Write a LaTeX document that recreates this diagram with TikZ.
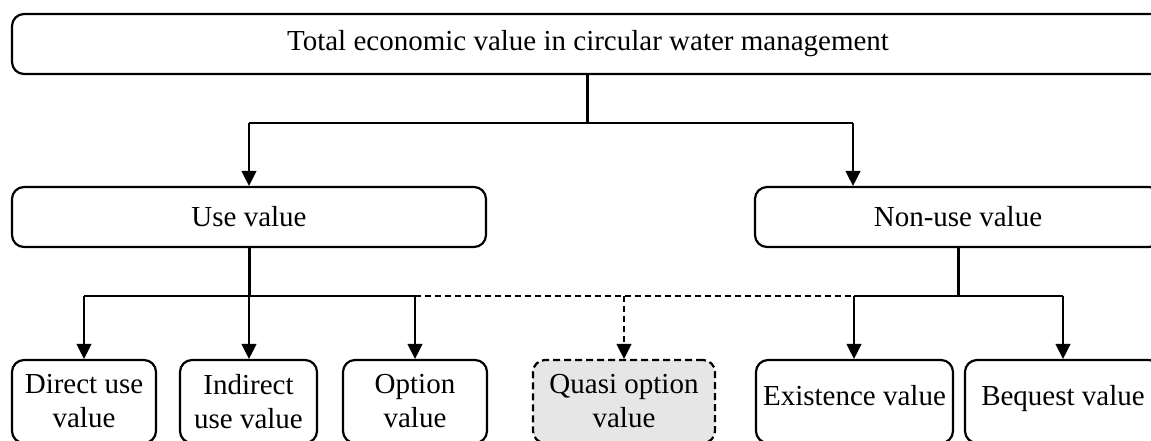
\documentclass[tikz,border=0pt]{standalone}
\usepackage{fontspec}
\setmainfont{Liberation Serif}
\usetikzlibrary{arrows.meta}
\definecolor{quasigray}{HTML}{E6E6E6}
\begin{document}
\begin{tikzpicture}[x=1pt,y=-1pt,
  box/.style={draw, line width=2.2pt, rounded corners=12pt, inner sep=0pt, align=center, font=\fontsize{29}{34}\selectfont},
  conn/.style={line width=1.3pt},
  stem/.style={line width=3pt},
  arr/.style={-{Triangle[length=15pt,width=15pt]}, line width=1.3pt},
  dsh/.style={dash pattern=on 6pt off 4pt},
]
\useasboundingbox (0,0) rectangle (1151,440);
\clip (0,0) rectangle (1151,440);

\node[box, minimum width=1152pt, minimum height=60pt] (top) at (588,44) {Total economic value in circular water management};
\node[box, minimum width=474pt, minimum height=60pt] (use) at (249,217) {Use value};
\node[box, minimum width=406pt, minimum height=60pt] (non) at (958,217) {Non-use value};

\node[box, minimum width=144pt, minimum height=83pt] (dir) at (84,401.5) {Direct use\\value};
\node[box, minimum width=137pt, minimum height=83pt] (ind) at (248.5,401.5) {Indirect\\use value};
\node[box, minimum width=144pt, minimum height=83pt] (opt) at (415,401.5) {Option\\value};
\node[box, minimum width=182pt, minimum height=83pt, fill=quasigray, dash pattern=on 7pt off 4pt] (qua) at (624,401.5) {Quasi option\\value};
\node[box, minimum width=197pt, minimum height=83pt, text depth=12pt] (exi) at (854.5,401.5) {Existence value};
\node[box, minimum width=196pt, minimum height=83pt, text depth=12pt] (beq) at (1063,401.5) {Bequest value};

% upper level
\coordinate (j1) at (587,123);
\coordinate (l1) at (249,123);
\coordinate (r1) at (853,123);
\draw[stem] (top.south -| j1) -- (j1);
\draw[conn] (l1) -- (r1);
\draw[arr] (l1) -- (l1 |- use.north);
\draw[arr] (r1) -- (r1 |- non.north);

% lower level
\coordinate (j2) at (249,296);
\coordinate (j3) at (958,296);
\coordinate (a1) at (84,296);
\coordinate (a3) at (415,296);
\coordinate (a4) at (624,296);
\coordinate (a5) at (854,296);
\coordinate (a6) at (1063,296);
\draw[stem] (use.south -| j2) -- (j2);
\draw[stem] (non.south -| j3) -- (j3);
\draw[conn] (a1) -- (a3);
\draw[conn, dsh] (a3) -- (a5);
\draw[conn] (a5) -- (a6);
\draw[arr] (a1) -- (a1 |- dir.north);
\draw[arr] (j2) -- (j2 |- ind.north);
\draw[arr] (a3) -- (a3 |- opt.north);
\draw[arr, dsh] (a4) -- (a4 |- qua.north);
\draw[arr] (a5) -- (a5 |- exi.north);
\draw[arr] (a6) -- (a6 |- beq.north);
\end{tikzpicture}
\end{document}
